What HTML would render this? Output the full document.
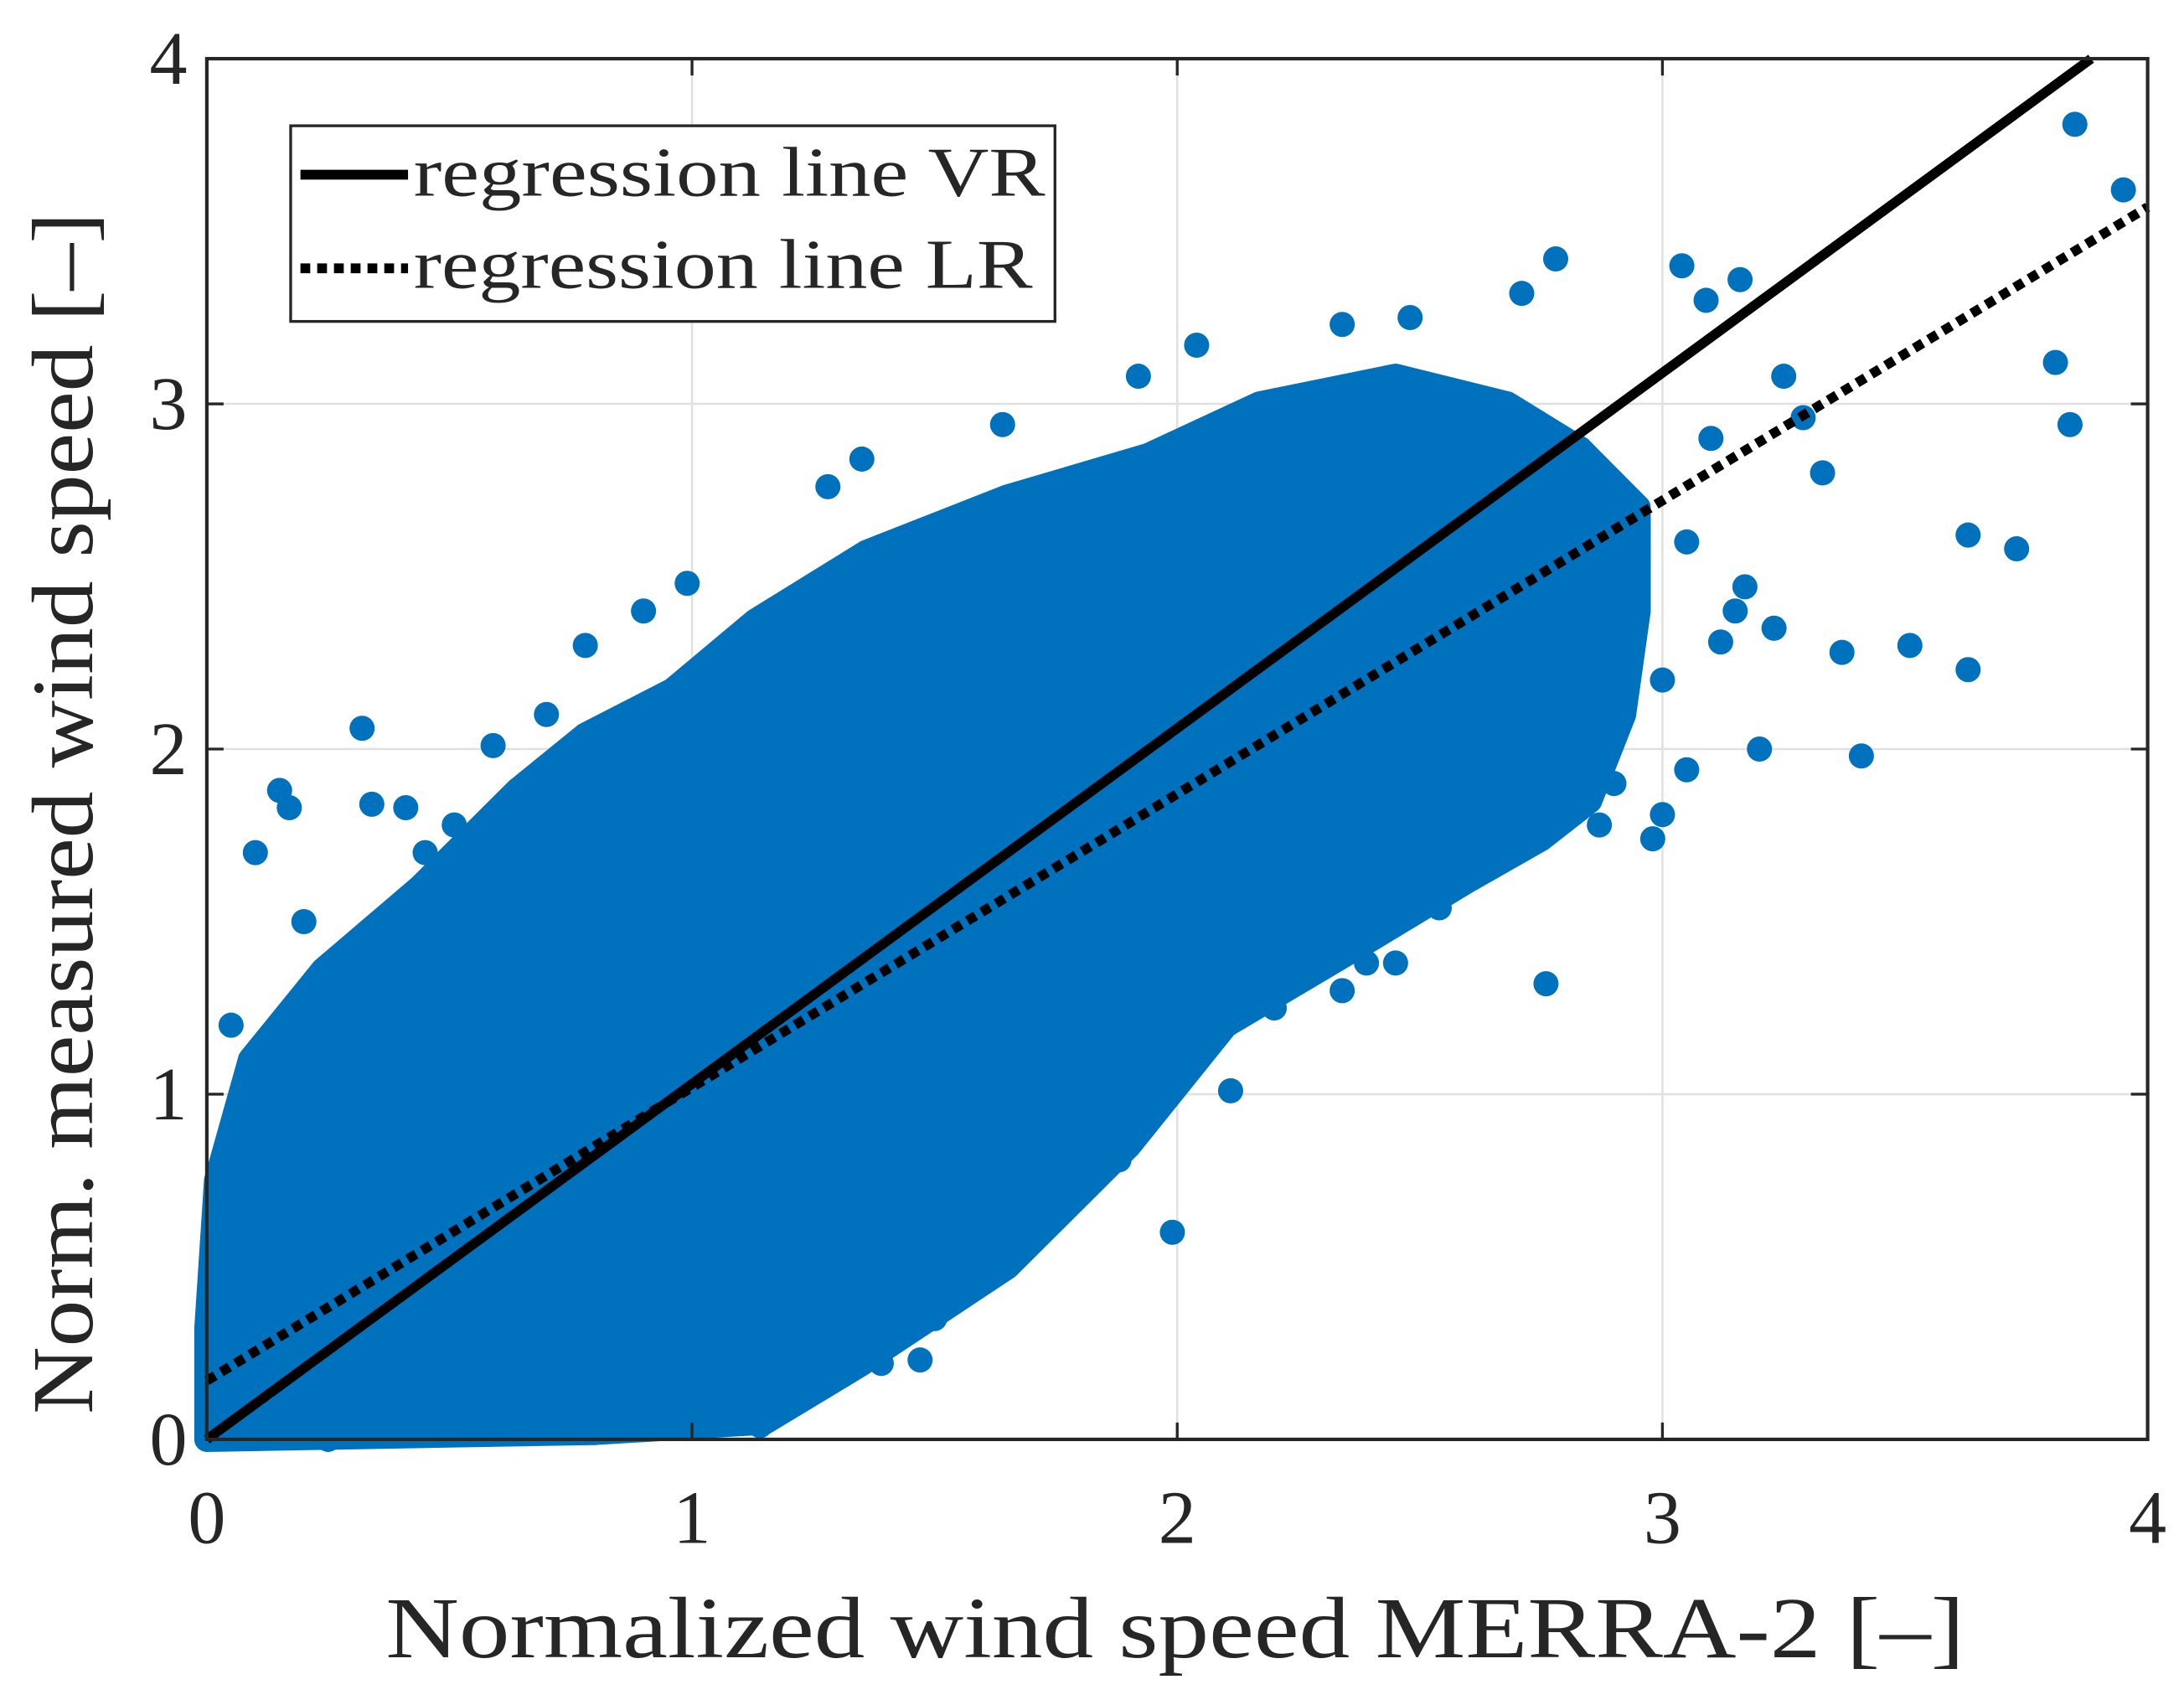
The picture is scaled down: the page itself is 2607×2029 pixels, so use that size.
<!DOCTYPE html>
<html><head><meta charset="utf-8"><style>
html,body{margin:0;padding:0;background:#fff;}
svg{display:block;}
text{font-family:"Liberation Serif",serif;fill:#262626;}
</style></head><body>
<svg id="chart" width="2607" height="2029" viewBox="0 0 1563 1216.5" xmlns="http://www.w3.org/2000/svg">
<g id="grid"></g>
<g id="cloud"></g>
<g id="lines"></g>
<g id="axes"></g>
<text x="276" y="1186" font-size="62" textLength="1130" lengthAdjust="spacingAndGlyphs">Normalized wind speed MERRA-2 [–]</text>
<text transform="translate(66,1012) rotate(-90)" font-size="62" textLength="860" lengthAdjust="spacingAndGlyphs">Norm. measured wind speed [–]</text>
<g>
<rect x="208" y="90" width="547" height="140" fill="#fff" stroke="#262626" stroke-width="2"/>
<line x1="215" y1="125" x2="292" y2="125" stroke="#000" stroke-width="7"/>
<text x="296" y="140" font-size="50" fill="#000" textLength="452" lengthAdjust="spacingAndGlyphs">regression line VR</text>
<line x1="215" y1="192" x2="292" y2="192" stroke="#000" stroke-width="7" stroke-dasharray="7,5"/>
<text x="296" y="206" font-size="50" fill="#000" textLength="443" lengthAdjust="spacingAndGlyphs">regression line LR</text>
</g>
</svg>
<script>
const xTicks=[0,1,2,3,4];
const yTicks=[0,1,2,3,4];
const xTickLabels=["0","1","2","3","4"];
const yTickLabels=["0","1","2","3","4"];
// dense cloud outline (data coords)
const cloudX=[0,0.8,1.15,1.35,1.65,1.9,2.1,2.4,2.6,2.75,2.85,2.92,2.95,2.95,2.83,2.68,2.45,2.17,1.94,1.65,1.36,1.13,0.96,0.78,0.64,0.44,0.24,0.09,0.02,0];
const cloudY=[0,0.02,0.05,0.22,0.5,0.85,1.2,1.45,1.62,1.74,1.85,2.1,2.4,2.7,2.87,3.0,3.08,3.0,2.85,2.73,2.57,2.37,2.17,2.04,1.88,1.6,1.36,1.1,0.75,0.32];
// individual outlying points
const ptX=[3.85,3.95,3.81,3.84,3.63,3.73,3.63,3.51,3.41,3.37,3.05,2.98,3.0,2.76,1.99,2.78,3.04,3.09,3.16,2.71,2.48,2.34,2.04,1.92,1.64,1.35,1.28,0.99,0.9,0.78,0.59,0.32,0.15,0.17,0.1,0.34,0.41,0.51,3.25,3.29,3.33,3.17,3.23,3.12,2.91,2.87,2.6,2.54,2.39,2.34,2.45,2.11,1.88,1.77,1.54,1.47,1.39,1.27,1.14,0.8,0.25,3.1,3.05,3.15,3.0,3.2,2.9,2.95,2.2,2.5,2.6,1.5,1.2,0.7,0.45,0.2,0.05,1.95,2.25,2.65,1.7];
const ptY=[3.81,3.62,3.12,2.94,2.62,2.58,2.23,2.30,1.98,2.28,1.94,1.74,1.81,1.32,0.6,3.42,3.40,3.30,3.36,3.32,3.25,3.23,3.17,3.08,2.94,2.84,2.76,2.48,2.40,2.30,2.01,2.06,1.88,1.83,1.70,1.84,1.83,1.78,3.08,2.96,2.80,2.47,2.35,2.31,2.11,1.78,1.74,1.54,1.38,1.30,1.38,1.01,0.81,0.70,0.45,0.23,0.22,0.28,0.04,0.02,0.0,2.9,2.6,2.4,2.2,2.0,1.9,2.55,1.25,1.55,1.65,0.35,0.15,2.1,1.7,1.5,1.2,0.95,1.35,1.75,0.65];
const vrCoef=[0,1.03];   // intercept, slope
const lrCoef=[0.17,0.85];

const X0=148,X1=1537,Y0=1030,Y1=42;
const sx=v=>X0+(v-0)/(4-0)*(X1-X0);
const sy=v=>Y0-(v-0)/(4-0)*(Y0-Y1);
const NS="http://www.w3.org/2000/svg";
function mk(tag,attrs,parent){const e=document.createElementNS(NS,tag);for(const k in attrs)e.setAttribute(k,attrs[k]);parent.appendChild(e);return e;}
const grid=document.getElementById('grid'),axes=document.getElementById('axes'),cloud=document.getElementById('cloud'),lines=document.getElementById('lines');
xTicks.forEach((t,i)=>{
  const g=mk('line',{x1:sx(t),x2:sx(t),y1:Y1,y2:Y0,stroke:'#e0e0e0','stroke-width':1.5},grid);
  
  
  const tk=mk('path',{d:`M${sx(t)},${Y0}v-12M${sx(t)},${Y1}v12`,stroke:'#262626','stroke-width':2},axes);
  
  
  const tx=mk('text',{x:sx(t),y:1104,'font-size':54,'text-anchor':'middle'},axes);
  tx.textContent=xTickLabels[i];
  
  
});
yTicks.forEach((t,i)=>{
  const g=mk('line',{x1:X0,x2:X1,y1:sy(t),y2:sy(t),stroke:'#e0e0e0','stroke-width':1.5},grid);
  
  
  const tk=mk('path',{d:`M${X0},${sy(t)}h12M${X1},${sy(t)}h-12`,stroke:'#262626','stroke-width':2},axes);
  
  
  const tx=mk('text',{x:134,y:sy(t)+18,'font-size':54,'text-anchor':'end'},axes);
  tx.textContent=yTickLabels[i];
  
  
});
const poly=mk('polygon',{points:cloudX.map((x,i)=>sx(x)+','+sy(cloudY[i])).join(' '),fill:'#0072BD',stroke:'#0072BD','stroke-width':18,'stroke-linejoin':'round'},cloud);


ptX.forEach((x,i)=>{
  const c=mk('circle',{cx:sx(x),cy:sy(ptY[i]),r:9,fill:'#0072BD'},cloud);
  
  
});
const box=mk('rect',{x:X0,y:Y1,width:X1-X0,height:Y0-Y1,fill:'none',stroke:'#262626','stroke-width':2.5},axes);


const vrXend=(4-vrCoef[0])/vrCoef[1];
const vr=mk('line',{x1:sx(0),y1:sy(vrCoef[0]),x2:sx(Math.min(4,vrXend)),y2:sy(vrCoef[0]+vrCoef[1]*Math.min(4,vrXend)),stroke:'#000','stroke-width':7},lines);


const lr=mk('line',{x1:sx(0),y1:sy(lrCoef[0]),x2:sx(4),y2:sy(lrCoef[0]+lrCoef[1]*4),stroke:'#000','stroke-width':7,'stroke-dasharray':'7,5'},lines);


</script>
</body></html>
